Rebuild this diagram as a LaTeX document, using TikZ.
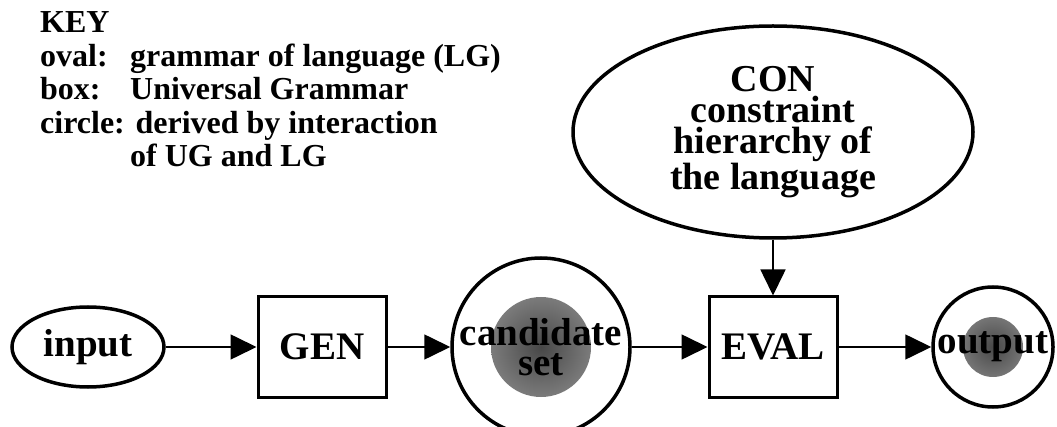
\documentclass[tikz,border=0pt]{standalone}
\usepackage{fontspec}
\setmainfont{Liberation Serif}
\usetikzlibrary{arrows.meta,positioning,shapes.geometric}

\begin{document}
\begin{tikzpicture}[x=1pt,y=-1pt,on grid,
  oval/.style={ellipse,draw,line width=3.5pt,inner sep=0pt},
  ugbox/.style={rectangle,draw,line width=3pt,minimum width=128pt,minimum height=100pt},
  derived/.style 2 args={circle,draw,line width=3.5pt,minimum size=#1,inner sep=0pt,
    path picture={\shade[inner color=black!72,outer color=black!36]
      (path picture bounding box.center) circle (#2);}},
  label/.style={font=\bfseries\fontsize{39}{30}\selectfont},
  link/.style={-{Triangle[length=26pt,width=25pt]},line width=1.6pt}]
   \useasboundingbox (0,0) rectangle (1057,427);
   % key
   \node[anchor=base west,align=left,inner sep=0pt,
     font=\bfseries\fontsize{32}{33.5}\selectfont] (key) at (40,167)
     {KEY\\
      \makebox[90pt][l]{oval:}grammar of language (LG)\\
      \makebox[90pt][l]{box:}Universal Grammar\\
      circle: derived by interaction\\
      \hspace*{90pt}of UG and LG};
   % main row
   \node[oval,label,minimum width=152pt,minimum height=80pt] (input) at (88,347) {input};
   \node[ugbox,label] (gen) [right=234pt of input] {GEN};
   \node[derived={178pt}{50pt},label,align=center] (cand) [right=219pt of gen] {candidate\\set};
   \node[ugbox,label] (eval) [right=232pt of cand] {EVAL};
   \node[derived={120pt}{30pt},label] (output) [right=220pt of eval] {output};
   \node[oval,minimum width=400pt,minimum height=212pt,align=center,
     font=\bfseries\fontsize{38}{31}\selectfont] (con) [above=215pt of eval]
     {CON\\constraint\\hierarchy of\\the language};

   \draw[link] (input) -- (gen);
   \draw[link] (gen) -- (cand);
   \draw[link] (cand) -- (eval);
   \draw[link] (eval) -- (output);
   \draw[link] (con) -- (eval);
\end{tikzpicture}
\end{document}
